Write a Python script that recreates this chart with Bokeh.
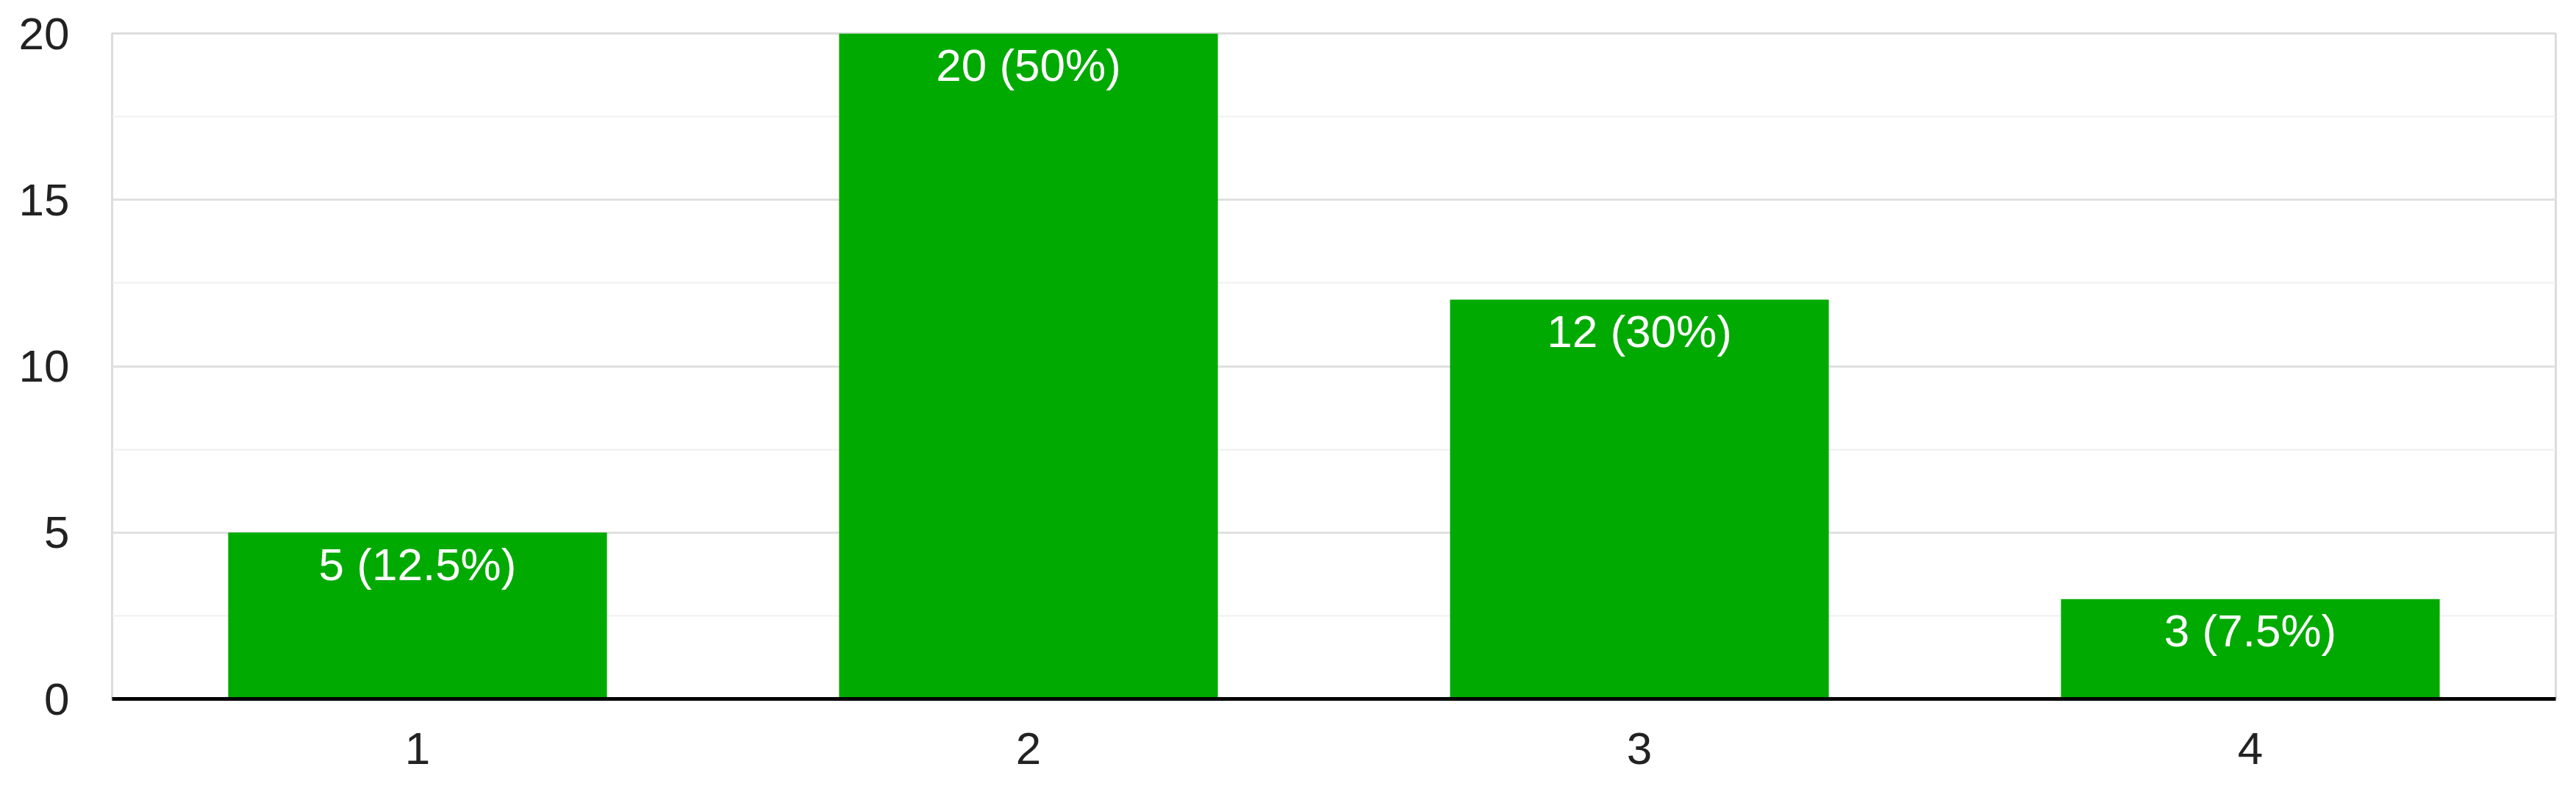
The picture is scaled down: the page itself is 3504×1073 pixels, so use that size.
from bokeh.plotting import figure
from bokeh.models import ColumnDataSource, FixedTicker, Range1d
from bokeh.embed import file_html
from bokeh.resources import INLINE
from bokeh.core.properties import value

categories = ["1", "2", "3", "4"]
counts = [5, 20, 12, 3]
bar_labels = ["5 (12.5%)", "20 (50%)", "12 (30%)", "3 (7.5%)"]
y_ticks = [0, 5, 10, 15, 20]
y_minor_ticks = [2.5, 7.5, 12.5, 17.5]

FONT = "Liberation Sans"

source = ColumnDataSource(data=dict(cat=categories, count=counts, label=bar_labels))

p = figure(
    x_range=categories,
    y_range=Range1d(0, 20),
    width=3488,
    height=1057,
    output_backend="svg",
    toolbar_location=None,
    min_border_left=152,
    min_border_right=12,
    min_border_top=45,
    min_border_bottom=107,
)
p.background_fill_color = "white"
p.border_fill_color = "white"
p.outline_line_color = "#dcdcdc"
p.outline_line_width = 3

p.vbar(x="cat", top="count", width=0.62, source=source,
       fill_color="#00AA00", line_color=None)

p.text(x="cat", y="count", text="label", source=source,
       text_color="white", text_font=value(FONT), text_font_size="62px",
       text_align="center", text_baseline="middle", y_offset=43)

# y axis
p.yaxis.ticker = FixedTicker(ticks=y_ticks, minor_ticks=y_minor_ticks)
p.yaxis.axis_line_color = None
p.yaxis.major_tick_line_color = None
p.yaxis.minor_tick_line_color = None
p.yaxis.major_tick_out = 0
p.yaxis.major_label_standoff = 54
p.yaxis.major_label_text_font = FONT
p.yaxis.major_label_text_font_size = "62px"
p.yaxis.major_label_text_color = "#222222"

p.ygrid.grid_line_color = "#e0e0e0"
p.ygrid.grid_line_width = 3
p.ygrid.minor_grid_line_color = "#f0f0f0"
p.ygrid.minor_grid_line_width = 2
p.xgrid.grid_line_color = None

# x axis
p.xaxis.axis_line_color = "black"
p.xaxis.axis_line_width = 5
p.xaxis.major_tick_line_color = None
p.xaxis.minor_tick_line_color = None
p.xaxis.major_tick_out = 0
p.xaxis.major_label_standoff = 46
p.xaxis.major_label_text_font = FONT
p.xaxis.major_label_text_font_size = "62px"
p.xaxis.major_label_text_color = "#222222"

open("out.html", "w").write(file_html(p, INLINE))
